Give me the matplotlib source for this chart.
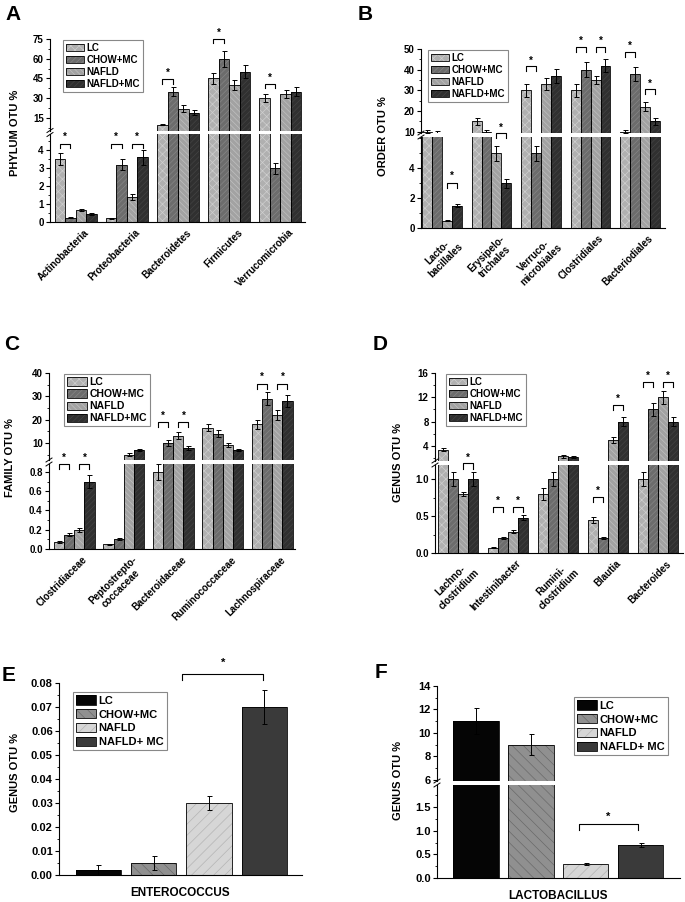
import matplotlib
matplotlib.use('Agg')
import matplotlib.pyplot as plt
import matplotlib.transforms as mtransforms
from matplotlib.lines import Line2D
from matplotlib.patches import Patch
from matplotlib.ticker import AutoMinorLocator
import numpy as np

W, H = 685, 902

plt.rcParams['font.family'] = ['Liberation Sans', 'DejaVu Sans']
plt.rcParams['font.weight'] = 'bold'
plt.rcParams['hatch.linewidth'] = 0.5

groups = ['LC', 'CHOW+MC', 'NAFLD', 'NAFLD+MC']
groups_ef = ['LC', 'CHOW+MC', 'NAFLD', 'NAFLD+ MC']

# A - phylum
phylum = ['Actinobacteria', 'Proteobacteria', 'Bacteroidetes', 'Firmicutes', 'Verrucomicrobia']
phylum_mean = [[3.5, 0.2, 10, 45, 30],
               [0.25, 3.2, 35, 60, 3.0],
               [0.65, 1.4, 22, 40, 33],
               [0.45, 3.6, 19, 50, 35]]
phylum_err = [[0.35, 0.03, 0.5, 4.5, 3],
              [0.05, 0.3, 3.5, 6, 0.3],
              [0.05, 0.15, 2.5, 4, 3],
              [0.05, 0.4, 2, 5, 3.5]]

# B - order
order = ['Lacto-\nbacillales', 'Erysipelo-\ntrichales', 'Verruco-\nmicrobiales', 'Clostridiales', 'Bacteriodiales']
order_mean = [[10, 15, 30, 30, 10],
              [9.5, 10, 5, 40, 38],
              [0.5, 5, 33, 35, 22],
              [1.5, 3, 37, 42, 15]]
order_err = [[0.8, 1.8, 3, 3, 0.8],
             [0.8, 1, 0.5, 3.5, 3.5],
             [0.05, 0.5, 3, 2, 2.2],
             [0.12, 0.3, 3.5, 3, 1.5]]

# C - family
family = ['Clostridiaceae', 'Peptostrepto-\ncoccaceae', 'Bacteroidaceae', 'Ruminococcaceae', 'Lachnospiraceae']
family_mean = [[0.07, 0.05, 0.8, 16.5, 18],
               [0.15, 0.1, 10, 14, 29],
               [0.2, 5, 13, 9, 22],
               [0.7, 7, 8, 7, 28]]
family_err = [[0.01, 0.005, 0.08, 1.5, 1.8],
              [0.015, 0.01, 1.2, 1.5, 2.8],
              [0.02, 0.5, 1.5, 0.8, 2],
              [0.07, 0.5, 0.8, 0.5, 2.5]]

# D - genus
genus = ['Lachno-\nclostridium', 'Intestinibacter', 'Rumini-\nclostridium', 'Blautia', 'Bacteroides']
genus_mean = [[3.4, 0.07, 0.8, 0.45, 1.0],
              [1.0, 0.2, 1.0, 0.2, 10],
              [0.8, 0.29, 2.3, 5.0, 12],
              [1.0, 0.48, 2.2, 8.0, 8]]
genus_err = [[0.3, 0.005, 0.08, 0.04, 0.1],
             [0.1, 0.015, 0.1, 0.01, 1],
             [0.03, 0.025, 0.2, 0.5, 1.1],
             [0.1, 0.04, 0.15, 0.7, 0.7]]

# E / F - single genus
entero_mean = [0.002, 0.005, 0.030, 0.070]
entero_err = [0.002, 0.003, 0.003, 0.007]
lacto_mean = [11, 9, 0.3, 0.7]
lacto_err = [1.1, 0.9, 0.02, 0.05]

st_ad = [dict(fc='#b0b0b0', hatch='xxxx', hc='#cfcfcf'),
         dict(fc='#6c6c6c', hatch='//////', hc='#868686'),
         dict(fc='#a2a2a2', hatch='\\\\\\\\\\\\', hc='#c0c0c0'),
         dict(fc='#303030', hatch='//////', hc='#444444')]
st_ef = [dict(fc='#050505', hatch=None, hc='#050505'),
         dict(fc='#909090', hatch='\\\\\\', hc='#6a6a6a'),
         dict(fc='#d6d6d6', hatch='///', hc='#b4b4b4'),
         dict(fc='#3a3a3a', hatch=None, hc='#3a3a3a')]

fig = plt.figure(figsize=(W / 100, H / 100), dpi=100)


def rect(l, t, r, b):
    return [l / W, 1 - b / H, (r - l) / W, (b - t) / H]


def style(ax, fs):
    for s in ['top', 'right']:
        ax.spines[s].set_visible(False)
    ax.spines['left'].set_linewidth(0.8)
    ax.spines['bottom'].set_linewidth(0.8)
    ax.tick_params(axis='y', direction='out', length=3, width=0.8, labelsize=fs, pad=1.5)
    ax.tick_params(axis='y', which='minor', length=1.5, width=0.6)
    ax.yaxis.set_minor_locator(AutoMinorLocator(2))
    ax.patch.set_alpha(0)


def draw_bars(ax, x, vals, errs, width, st):
    ax.bar(x, vals, width, color=st['fc'], hatch=st['hatch'], edgecolor=st['hc'], lw=0, zorder=2)
    ax.bar(x, vals, width, fill=False, edgecolor='k', lw=0.6, zorder=3)
    ax.errorbar(x, vals, yerr=errs, fmt='none', ecolor='k', elinewidth=0.7,
                capsize=1.8, capthick=0.7, zorder=4)


def bracket(ax, x1, x2, ytop, ybot, ystar, fs=7):
    ax.plot([x1, x1, x2, x2], [ybot, ytop, ytop, ybot], color='k', lw=0.8, clip_on=False, zorder=5)
    ax.text((x1 + x2) / 2, ystar, '*', ha='center', va='center', fontsize=fs, clip_on=False)


def break_marks(x, yc):
    for d in (-2, 2):
        fig.add_artist(Line2D([(x - 3) / W, (x + 3) / W],
                              [1 - (yc + d + 2) / H, 1 - (yc + d - 2) / H],
                              color='k', lw=0.7, transform=fig.transFigure))


def add_legend(ax, styles, labels, px, fs, hl, hh, ls):
    handles = [(Patch(facecolor=st['fc'], hatch=st['hatch'], edgecolor=st['hc'], lw=0),
                Patch(fill=False, edgecolor='k', lw=0.6)) for st in styles]
    leg = ax.legend(handles, labels, loc='upper left', bbox_to_anchor=(px[0] / W, 1 - px[1] / H),
                    bbox_transform=fig.transFigure, fontsize=fs, handlelength=hl,
                    handleheight=hh, labelspacing=ls, handletextpad=0.25, borderpad=0.3,
                    borderaxespad=0, fancybox=False, framealpha=1, edgecolor='#888888')
    leg.get_frame().set_linewidth(0.8)
    leg.set_zorder(10)


def broken_panel(xpx, up_px, lo_px, xlim, up_lim, lo_lim, up_ticks, lo_ticks, lo_fmt,
                 cats, means, errs, width=0.205):
    l, r = xpx
    ax_up = fig.add_axes(rect(l, up_px[0], r, up_px[1]))
    ax_lo = fig.add_axes(rect(l, lo_px[0], r, lo_px[1]))
    x = np.arange(len(cats))
    for ax in (ax_up, ax_lo):
        style(ax, 7)
        for g in range(4):
            draw_bars(ax, x + (g - 1.5) * width, means[g], errs[g], width, st_ad[g])
        ax.set_xlim(*xlim)
    ax_up.set_ylim(*up_lim)
    ax_lo.set_ylim(*lo_lim)
    ax_up.spines['bottom'].set_visible(False)
    ax_up.set_xticks([])
    ax_up.set_yticks(up_ticks)
    ax_up.set_yticklabels([str(t) for t in up_ticks])
    ax_lo.set_yticks(lo_ticks)
    ax_lo.set_yticklabels([lo_fmt.format(t) for t in lo_ticks])
    ax_lo.set_xticks(x)
    ax_lo.set_xticklabels(cats, rotation=45, ha='right', rotation_mode='anchor',
                          fontsize=7, multialignment='center')
    ax_lo.tick_params(axis='x', length=0, pad=4)
    shift = mtransforms.ScaledTranslation(8 / 100, 0, fig.dpi_scale_trans)
    for lab in ax_lo.get_xticklabels():
        lab.set_transform(lab.get_transform() + shift)
    break_marks(l, (up_px[1] + lo_px[0]) / 2)
    return ax_up, ax_lo


def xg(cat, g, width=0.205):
    return cat + (g - 1.5) * width


# ---------------- A ----------------
aU, aL = broken_panel((50, 305), (39, 131), (134, 222), (-0.5, 4.48), (5.1, 75), (0, 4.9),
                      [15, 30, 45, 60, 75], [0, 1, 2, 3, 4], '{:g}',
                      phylum, phylum_mean, phylum_err)
bracket(aL, xg(0, 0), xg(0, 1), 4.37, 4.1, 4.75)
bracket(aL, xg(1, 0), xg(1, 1), 4.37, 4.1, 4.75)
bracket(aL, xg(1, 2), xg(1, 3), 4.37, 4.1, 4.75)
bracket(aU, xg(2, 0), xg(2, 1), 44.8, 41, 49)
bracket(aU, xg(3, 0), xg(3, 1), 75, 72, 79.5)
bracket(aU, xg(4, 0), xg(4, 1), 41, 37.5, 45.5)
add_legend(aU, st_ad, groups, (63, 40), 7, 1.9, 0.85, 0.2)

# ---------------- B ----------------
bU, bL = broken_panel((421, 665), (49, 133), (137, 228), (-0.42, 4.5), (9.4, 50), (0, 6.07),
                      [10, 20, 30, 40, 50], [0, 2, 4], '{:g}',
                      order, order_mean, order_err, width=0.2)
bracket(bL, xg(0, 2, 0.2), xg(0, 3, 0.2), 3.0, 2.7, 3.5)
bracket(bL, xg(1, 2, 0.2), xg(1, 3, 0.2), 6.33, 6.0, 6.7)
bracket(bU, xg(2, 0, 0.2), xg(2, 1, 0.2), 41.7, 39.4, 44.5)
bracket(bU, xg(3, 0, 0.2), xg(3, 1, 0.2), 50.8, 48.5, 53.9)
bracket(bU, xg(3, 2, 0.2), xg(3, 3, 0.2), 50.8, 48.5, 53.9)
bracket(bU, xg(4, 0, 0.2), xg(4, 1, 0.2), 48.5, 46.2, 51.3)
bracket(bU, xg(4, 2, 0.2), xg(4, 3, 0.2), 30.6, 28.3, 33)
add_legend(bU, st_ad, groups, (428, 50), 7, 1.9, 0.85, 0.2)

# ---------------- C ----------------
cU, cL = broken_panel((49, 295), (373, 460), (464, 549), (-0.51, 4.46), (2.7, 40), (0, 0.883),
                      [10, 20, 30, 40], [0.0, 0.2, 0.4, 0.6, 0.8], '{:.1f}',
                      family, family_mean, family_err)
bracket(cL, xg(0, 0), xg(0, 1), 0.88, 0.83, 0.95)
bracket(cL, xg(0, 2), xg(0, 3), 0.88, 0.83, 0.95)
bracket(cU, xg(2, 0), xg(2, 1), 19, 16.9, 21.6)
bracket(cU, xg(2, 2), xg(2, 3), 19, 16.9, 21.6)
bracket(cU, xg(4, 0), xg(4, 1), 35.3, 33, 38.3)
bracket(cU, xg(4, 2), xg(4, 3), 35.3, 33, 38.3)
add_legend(cU, st_ad, groups, (64, 374), 7.5, 1.9, 0.85, 0.2)

# ---------------- D ----------------
dU, dL = broken_panel((435, 683), (373, 461), (465, 553), (-0.46, 4.5), (1.53, 16), (0, 1.19),
                      [4, 8, 12, 16], [0.0, 0.5, 1.0], '{:.1f}',
                      genus, genus_mean, genus_err, width=0.2)
bracket(dL, xg(0, 2, 0.2), xg(0, 3, 0.2), 1.22, 1.14, 1.29)
bracket(dL, xg(1, 0, 0.2), xg(1, 1, 0.2), 0.62, 0.55, 0.70)
bracket(dL, xg(1, 2, 0.2), xg(1, 3, 0.2), 0.62, 0.55, 0.70)
bracket(dL, xg(3, 0, 0.2), xg(3, 1, 0.2), 0.76, 0.69, 0.84)
bracket(dU, xg(3, 2, 0.2), xg(3, 3, 0.2), 10.7, 9.9, 11.7)
bracket(dU, xg(4, 0, 0.2), xg(4, 1, 0.2), 14.5, 13.7, 15.5)
bracket(dU, xg(4, 2, 0.2), xg(4, 3, 0.2), 14.5, 13.7, 15.5)
add_legend(dU, st_ad, groups, (446, 374), 7, 1.9, 0.85, 0.2)

# ---------------- E ----------------
axE = fig.add_axes(rect(59, 683, 302, 875))
style(axE, 8)
xe = np.arange(4)
for g in range(4):
    draw_bars(axE, xe[g], entero_mean[g], entero_err[g], 0.82, st_ef[g])
axE.set_xlim(-0.71, 3.68)
axE.set_ylim(0, 0.08)
axE.set_yticks(np.arange(0, 0.081, 0.01))
axE.set_yticklabels(['{:.2f}'.format(t) for t in np.arange(0, 0.081, 0.01)])
axE.set_xticks([])
bracket(axE, 1.52, 2.98, 0.0838, 0.0813, 0.0885, fs=8)
add_legend(axE, st_ef, groups_ef, (73, 692), 8, 1.75, 0.9, 0.3)

# ---------------- F ----------------
fU = fig.add_axes(rect(437, 686, 680, 781))
fL = fig.add_axes(rect(437, 785, 680, 878))
xf = np.arange(4)
for ax in (fU, fL):
    style(ax, 8)
    for g in range(4):
        draw_bars(ax, xf[g], lacto_mean[g], lacto_err[g], 0.83, st_ef[g])
    ax.set_xlim(-0.71, 3.72)
fU.set_ylim(5.91, 14)
fL.set_ylim(0, 1.965)
fU.spines['bottom'].set_visible(False)
fU.set_xticks([])
fL.set_xticks([])
fU.set_yticks([6, 8, 10, 12, 14])
fL.set_yticks([0, 0.5, 1.0, 1.5])
fL.set_yticklabels(['0.0', '0.5', '1.0', '1.5'])
break_marks(437, 783)
bracket(fL, 1.87, 2.96, 1.14, 1.01, 1.29, fs=8)
add_legend(fU, st_ef, groups_ef, (574, 697), 8, 1.75, 0.9, 0.3)

# ---------------- labels ----------------
for txt, x, y in [('A', 5, 5), ('B', 358, 5), ('C', 4, 335), ('D', 373, 335),
                  ('E', 2, 666), ('F', 375, 663)]:
    fig.text(x / W, 1 - y / H, txt, fontsize=15, fontweight='bold', ha='left', va='top')

for txt, x, y in [('PHYLUM OTU %', 15, 133), ('ORDER OTU %', 383, 136),
                  ('FAMILY OTU %', 10, 458), ('GENUS OTU %', 398, 463),
                  ('GENUS OTU %', 15, 772), ('GENUS OTU %', 398, 780)]:
    fig.text(x / W, 1 - y / H, txt, fontsize=8, fontweight='bold', rotation=90,
             ha='center', va='center')

fig.text(180 / W, 1 - 893 / H, 'ENTEROCOCCUS', fontsize=8.5, ha='center', va='center')
fig.text(558 / W, 1 - 896 / H, 'LACTOBACILLUS', fontsize=8.5, ha='center', va='center')

fig.savefig('out.png', dpi=100)
